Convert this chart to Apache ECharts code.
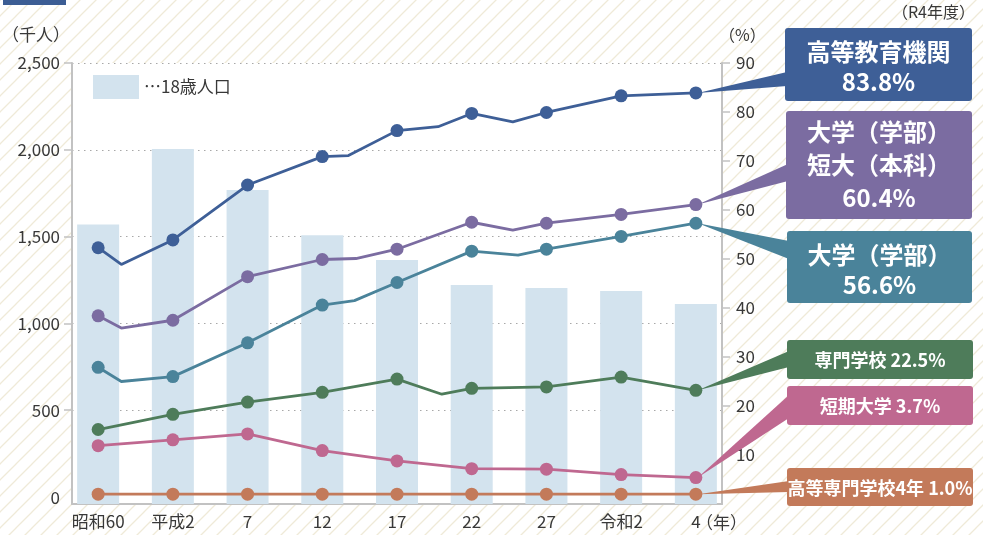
<!DOCTYPE html>
<html><head><meta charset="utf-8">
<script src="https://cdn.jsdelivr.net/npm/echarts@6/dist/echarts.min.js"></script>
<style>html,body{margin:0;padding:0;background:#fff}#c{width:983px;height:535px}</style>
</head><body><div id="c"></div>
<script>
// ---- data ----
const categories = ['昭和60', '平成2', '7', '12', '17', '22', '27', '令和2', '4'];
const leftTicks = [0, 500, 1000, 1500, 2000, 2500];
const population = [1570, 2005, 1768, 1508, 1365, 1221, 1204, 1187, 1112];   // 18歳人口 (千人)

const higherEd      = [52.3, 53.9, 65.1, 70.9, 76.2, 79.7, 79.9, 83.3, 83.9];
const higherEdBends = [[0.31, 48.9], [3.35, 71.1], [4.55, 77.0], [5.55, 78.0]];
const univJunior      = [38.4, 37.5, 46.4, 49.9, 52.0, 57.5, 57.3, 59.1, 61.1];
const univJuniorBends = [[0.31, 35.9], [3.45, 50.1], [5.55, 55.9]];
const univ      = [27.9, 26.0, 32.9, 40.6, 45.2, 51.6, 52.0, 54.6, 57.3];
const univBends = [[0.31, 25.0], [3.43, 41.5], [5.62, 50.8]];
const vocational      = [15.2, 18.3, 20.8, 22.8, 25.5, 23.6, 23.9, 25.9, 23.2];
const vocationalBends = [[4.6, 22.4]];
const juniorCollege = [11.9, 13.1, 14.3, 10.9, 8.8, 7.2, 7.1, 6.0, 5.4];
const techCollege   = [2.0, 2.0, 2.0, 2.0, 2.0, 2.0, 2.0, 2.0, 2.0];

const calloutTexts = ['高等教育機関\n83.8%', '大学（学部）\n短大（本科）\n60.4%', '大学（学部）\n56.6%',
  '専門学校 22.5%', '短期大学 3.7%', '高等専門学校4年 1.0%'];

// ---- styling ----
const FONT = '"Noto Sans CJK JP", "Noto Sans", sans-serif';
const COL = { blue:'#3e5f97', purple:'#7b6ca1', teal:'#4a839a', green:'#4e7c5a', pink:'#bf6890', orange:'#c37a5a', bar:'#d3e3ee', axis:'#c2c2c2', text:'#383838' };

function build(values, bends) {
  const pts = values.map((v, i) => ({ value: [i, v] }));
  (bends || []).forEach(b => pts.push({ value: [b[0], b[1]], symbol: 'none' }));
  pts.sort((a, b) => a.value[0] - b.value[0]);
  return pts;
}
function lineSeries(name, color, values, bends) {
  return {
    name, type: 'line', xAxisIndex: 0, yAxisIndex: 1,
    data: build(values, bends), symbol: 'circle', symbolSize: 13, showAllSymbol: true,
    lineStyle: { color, width: 2.8 }, itemStyle: { color }, z: 3
  };
}

const chart = echarts.init(document.getElementById('c'), null, { renderer: 'canvas' });
const option = {
  animation: false,
  textStyle: { fontFamily: FONT },
  grid: { left: 72, right: 261, top: 63, bottom: 31, show: true, backgroundColor: '#fff', borderWidth: 0, outerBoundsMode: 'none', containLabel: false },
  legend: {
    data: ['18歳人口'], left: 88, top: 70, itemWidth: 46, itemHeight: 24, icon: 'rect',
    formatter: () => '…18歳人口', textStyle: { fontSize: 17, color: COL.text, fontFamily: FONT }
  },
  xAxis: {
    type: 'value', min: -0.35, max: 8.35,
    axisLine: { show: true, onZero: false, lineStyle: { color: COL.axis, width: 2 } },
    axisTick: { show: false }, splitLine: { show: false },
    axisLabel: {
      customValues: categories.map((c, i) => i), margin: 9,
      formatter: v => categories[Math.round(v)] || '', fontSize: 17, color: COL.text, fontFamily: FONT
    }
  },
  yAxis: [
    {
      type: 'value', min: -40, max: 2500, startValue: -40, position: 'left',
      axisLine: { show: true, onZero: false, lineStyle: { color: COL.axis, width: 2 } },
      axisTick: { show: true, customValues: leftTicks.slice(1), length: 8, lineStyle: { color: COL.axis, width: 1.5 } },
      axisLabel: { customValues: leftTicks, margin: 12, fontSize: 17, color: COL.text, fontFamily: FONT,
        formatter: v => v.toLocaleString('en-US') },
      splitLine: { show: true, lineStyle: { type: [1.5, 4.5], color: '#a8a8a8', width: 1.2 } }
    },
    {
      type: 'value', min: 0, max: 90, interval: 10, position: 'right',
      axisLine: { show: true, onZero: false, lineStyle: { color: COL.axis, width: 2 } },
      axisTick: { show: true, length: 8, lineStyle: { color: COL.axis, width: 1.5 } },
      axisLabel: { showMinLabel: false, margin: 14, fontSize: 17, color: COL.text, fontFamily: FONT },
      splitLine: { show: false }
    }
  ],
  series: [
    { name: '18歳人口', type: 'bar', xAxisIndex: 0, yAxisIndex: 0, barWidth: 42,
      data: population.map((v, i) => [i, v]), itemStyle: { color: COL.bar }, z: 1 },
    lineSeries('高等教育機関', COL.blue, higherEd, higherEdBends),
    lineSeries('大学・短大', COL.purple, univJunior, univJuniorBends),
    lineSeries('大学', COL.teal, univ, univBends),
    lineSeries('専門学校', COL.green, vocational, vocationalBends),
    lineSeries('短期大学', COL.pink, juniorCollege, null),
    lineSeries('高専4年', COL.orange, techCollege, null)
  ]
};
chart.setOption(option);

// ---- decorations ----
const pc = document.createElement('canvas');
pc.width = 16; pc.height = 16;
const ctx = pc.getContext('2d');
ctx.strokeStyle = '#efead8'; ctx.lineWidth = 1.3;
ctx.beginPath();
ctx.moveTo(-2, 18); ctx.lineTo(18, -2);
ctx.moveTo(-10, 10); ctx.lineTo(10, -10);
ctx.moveTo(6, 26); ctx.lineTo(26, 6);
ctx.stroke();

const lastVals = [higherEd, univJunior, univ, vocational, juniorCollege, techCollege].map(a => a[a.length - 1]);
const boxes = [
  { color: COL.blue,   rect: [785, 28, 187, 73],  base: [72, 86],   size: 24, lh: 30, dy: 2 },
  { color: COL.purple, rect: [786, 111, 186, 108], base: [164, 181], size: 24, lh: 33, dy: 0 },
  { color: COL.teal,   rect: [787, 231, 185, 72],  base: [241, 259], size: 24, lh: 30, dy: 3 },
  { color: COL.green,  rect: [787, 340, 186, 39],  base: [351, 367], size: 18, lh: 22, dy: 1 },
  { color: COL.pink,   rect: [787, 386, 186, 39],  base: [395, 418], size: 18, lh: 22, dy: 1 },
  { color: COL.orange, rect: [787, 468, 186, 38],  base: [481, 492], size: 18, lh: 22, dy: 1 }
];

const graphics = [
  { type: 'rect', z: -10, silent: true, shape: { x: 0, y: 0, width: 983, height: 535 },
    style: { fill: { image: pc, repeat: 'repeat' } } },
  { type: 'rect', z: 10, shape: { x: 3, y: 0, width: 63, height: 5 }, style: { fill: '#3c5d94' } },
  { type: 'text', z: 10, style: { text: '（千人）', x: 2, y: 35, textVerticalAlign: 'middle', font: '17px ' + FONT, fill: COL.text } },
  { type: 'text', z: 10, style: { text: '（%）', x: 719, y: 35, textVerticalAlign: 'middle', font: '16px ' + FONT, fill: COL.text } },
  { type: 'text', z: 10, style: { text: '（R4年度）', x: 975, y: 12, textAlign: 'right', textVerticalAlign: 'middle', font: '16px ' + FONT, fill: COL.text } },
  { type: 'text', z: 10, style: { text: '（年）', x: 696, y: 523, textVerticalAlign: 'middle', font: '17px ' + FONT, fill: COL.text } }
];

boxes.forEach((b, k) => {
  const tip = chart.convertToPixel({ seriesIndex: k + 1 }, [categories.length - 1, lastVals[k]]);
  const [x, y, w, h] = b.rect;
  graphics.push({ type: 'polygon', z: 20, shape: { points: [[tip[0] + 2, tip[1]], [x + 2, b.base[0]], [x + 2, b.base[1]]] }, style: { fill: b.color } });
  graphics.push({ type: 'rect', z: 21, shape: { x, y, width: w, height: h, r: 3 }, style: { fill: b.color } });
  graphics.push({ type: 'text', z: 22, style: { text: calloutTexts[k], x: x + w / 2, y: y + h / 2 + b.dy,
    textAlign: 'center', textVerticalAlign: 'middle', lineHeight: b.lh,
    font: 'bold ' + b.size + 'px ' + FONT, fill: '#fff' } });
});

chart.setOption({ graphic: graphics });
</script>
</body></html>
